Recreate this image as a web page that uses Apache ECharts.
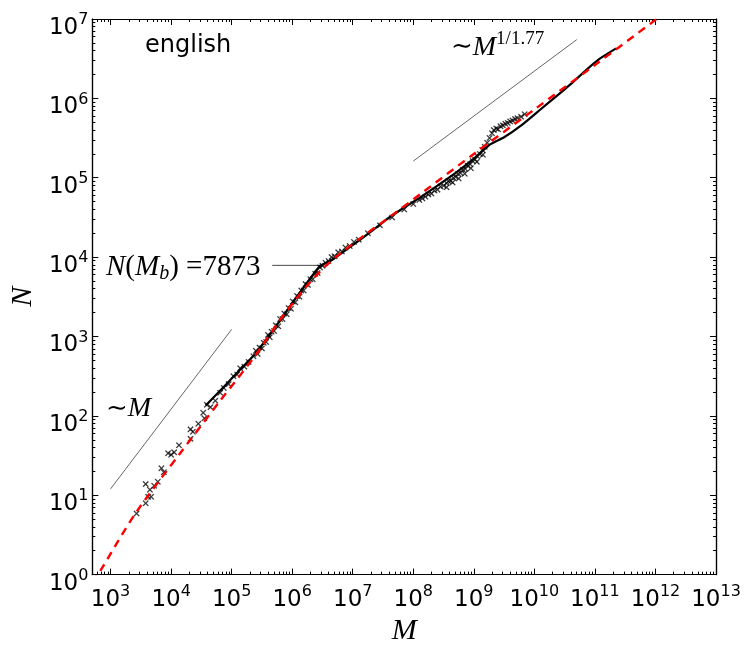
<!DOCTYPE html>
<html>
<head>
<meta charset="utf-8">
<script src="https://cdn.jsdelivr.net/npm/echarts@6/dist/echarts.min.js"></script>
<style>
  html, body { margin: 0; padding: 0; background: #fff; }
  #chart { width: 744px; height: 651px; }
</style>
</head>
<body>
<div id="chart"></div>
<script>
// All values are stored as base-10 exponents (log10 M, log10 N).

// Two-regime fit (red dashed)
const fitLogM = [2.70, 2.84, 3.41, 4.15, 4.81, 5.36, 5.80, 6.02, 6.20, 6.45, 6.60, 6.80, 7.20, 7.60, 8.11, 9.00, 10.00, 11.00, 12.02, 12.50];
const fitLogN = [-0.10, 0.06, 0.77, 1.53, 2.19, 2.73, 3.21, 3.43, 3.60, 3.81, 3.92, 4.05, 4.28, 4.50, 4.79, 5.30, 5.86, 6.42, 7.00, 7.28];

// Average vocabulary curve (black solid)
const curveLogM = [4.57, 4.80, 5.00, 5.20, 5.40, 5.60, 5.80, 6.00, 6.20, 6.46, 6.65, 6.85, 7.05, 7.30, 7.55, 7.80, 8.11, 8.40, 8.70, 9.00, 9.27, 9.50, 9.80, 10.10, 10.40, 10.60, 10.86, 11.08, 11.35];
const curveLogN = [2.13, 2.31, 2.47, 2.63, 2.79, 2.99, 3.20, 3.42, 3.63, 3.89, 3.96, 4.07, 4.18, 4.32, 4.47, 4.60, 4.75, 4.90, 5.06, 5.24, 5.42, 5.51, 5.67, 5.86, 6.05, 6.18, 6.36, 6.50, 6.63];

// Individual years (x markers)
const yearLogM = [
  3.43, 3.58, 3.58, 3.62, 3.65, 3.67, 3.72, 3.78, 3.84, 3.88, 3.95, 4.00, 4.05, 4.13, 4.32, 4.36, 4.32, 4.45, 4.53, 4.55,
  4.59, 4.65, 4.73, 4.81, 4.87, 4.95, 5.03, 5.09, 5.14, 5.21, 5.28, 5.36,
  5.40, 5.43, 5.46, 5.50, 5.53, 5.57, 5.60, 5.63, 5.66, 5.70, 5.73, 5.77, 5.80, 5.84, 5.87, 5.91, 5.94, 5.98, 6.01, 6.05,
  6.08, 6.12, 6.15, 6.19, 6.22, 6.26, 6.30, 6.34, 6.38, 6.42, 6.46, 6.50, 6.55, 6.60, 6.65, 6.70, 6.76, 6.82, 6.88, 6.95, 7.02, 7.10,
  7.25, 7.45, 7.65, 7.85, 8.00,
  8.10, 8.15, 8.20, 8.25, 8.30, 8.35, 8.40, 8.45, 8.50, 8.55, 8.58, 8.62, 8.66, 8.70, 8.74, 8.78, 8.82, 8.86, 8.90, 8.94,
  8.98, 9.02, 9.06, 9.10, 9.14, 9.18, 9.22, 9.26, 9.30,
  8.55, 8.65, 8.75, 8.85, 8.95, 9.05, 9.15,
  9.33, 9.37, 9.40, 9.44, 9.48, 9.52, 9.56, 9.60, 9.64, 9.68, 9.72, 9.78, 9.84];
const yearLogN = [
  0.77, 0.90, 1.14, 0.98, 1.07, 0.98, 1.12, 1.17, 1.34, 1.29, 1.53, 1.51, 1.54, 1.63, 1.83, 1.80, 1.71, 1.90, 2.04, 1.97,
  2.14, 2.11, 2.19, 2.29, 2.35, 2.40, 2.50, 2.52, 2.60, 2.62, 2.68, 2.75,
  2.82, 2.78, 2.86, 2.85, 2.92, 2.93, 3.02, 2.99, 3.06, 3.07, 3.14, 3.13, 3.22, 3.22, 3.29, 3.28, 3.36, 3.35, 3.44, 3.43,
  3.51, 3.50, 3.58, 3.58, 3.66, 3.65, 3.72, 3.72, 3.79, 3.80, 3.87, 3.89, 3.93, 3.95, 4.00, 4.01, 4.06, 4.07, 4.12, 4.14, 4.19, 4.22,
  4.30, 4.40, 4.50, 4.60, 4.67,
  4.72, 4.74, 4.76, 4.79, 4.80, 4.84, 4.85, 4.89, 4.90, 4.93, 4.96, 4.96, 5.00, 5.01, 5.05, 5.06, 5.10, 5.11, 5.15, 5.17,
  5.21, 5.23, 5.27, 5.30, 5.35, 5.39, 5.44, 5.50, 5.56,
  4.88, 4.94, 4.99, 5.05, 5.12, 5.20, 5.29,
  5.60, 5.62, 5.61, 5.65, 5.66, 5.68, 5.69, 5.71, 5.72, 5.74, 5.75, 5.77, 5.80];

// Guide slopes
const guideLowLogM = [3.00, 5.00];
const guideLowLogN = [1.08, 3.09];
const guideHighLogM = [8.00, 10.70];
const guideHighLogN = [5.21, 6.74];

// Break point marker
const breakN = 7873;
const breakLineLogM = [5.67, 6.47];

// Axis ranges and tick exponents
const xMin = 500, xMax = 1e13;
const yMin = 1, yMax = 1e7;
const xTickExp = [3, 4, 5, 6, 7, 8, 9, 10, 11, 12, 13];
const yTickExp = [0, 1, 2, 3, 4, 5, 6, 7];

const pw = e => Math.pow(10, e);
const pairs = (a, b) => a.map((v, i) => [pw(v), pw(b[i])]);

const majorX = xTickExp.map(pw);
const majorY = yTickExp.map(pw);
const minorX = [], minorY = [];
for (let e = 2; e <= 12; e++) for (let k = 2; k <= 9; k++) { const v = k * pw(e); if (v > xMin && v < xMax) minorX.push(v); }
for (let e = 0; e <= 6; e++) for (let k = 2; k <= 9; k++) minorY.push(k * pw(e));

const labelRich = {
  b: { fontSize: 23, fontFamily: 'DejaVu Sans', color: '#000' },
  s: { fontSize: 16, fontFamily: 'DejaVu Sans', color: '#000', padding: [0, 0, 16, 0] }
};
const powFmt = v => '{b|10}{s|' + Math.round(Math.log10(v)) + '}';

function makeAxis(kind, pos, ticks, len, withLabels) {
  const isX = kind === 'x';
  return {
    type: 'log', logBase: 10,
    min: isX ? xMin : yMin, max: isX ? xMax : yMax,
    position: pos,
    axisLine: { show: true, onZero: false, lineStyle: { color: '#000', width: 1.2 } },
    axisTick: { show: true, inside: true, length: len, customValues: ticks, lineStyle: { color: '#000', width: 1 } },
    axisLabel: withLabels ? {
      show: true, customValues: ticks, margin: isX ? 9 : 4,
      padding: isX ? 0 : [18, 0, 0, 0],
      formatter: powFmt, rich: labelRich
    } : { show: false },
    splitLine: { show: false },
    minorTick: { show: false },
    name: withLabels ? (isX ? 'M' : 'N') : '',
    nameLocation: 'middle',
    nameGap: isX ? 38 : 50,
    nameTextStyle: { fontFamily: 'Liberation Serif', fontStyle: 'italic', fontSize: 30, color: '#000' },
    silent: true
  };
}

const chart = echarts.init(document.getElementById('chart'), null, { renderer: 'canvas' });

const mathFont = 'Liberation Serif';
const crossPath = 'path://M0,1.3L1.3,0L5,3.7L8.7,0L10,1.3L6.3,5L10,8.7L8.7,10L5,6.3L1.3,10L0,8.7L3.7,5Z';

chart.setOption({
  animation: false,
  backgroundColor: '#fff',
  grid: { left: 92, right: 28, top: 19, bottom: 68, containLabel: false },
  xAxis: [
    makeAxis('x', 'bottom', majorX, 6, true),
    makeAxis('x', 'bottom', minorX, 3, false),
    makeAxis('x', 'top', majorX, 6, false),
    makeAxis('x', 'top', minorX, 3, false)
  ],
  yAxis: [
    makeAxis('y', 'left', majorY, 6, true),
    makeAxis('y', 'left', minorY, 3, false),
    makeAxis('y', 'right', majorY, 6, false),
    makeAxis('y', 'right', minorY, 3, false)
  ],
  series: [
    {
      name: 'guide-low', type: 'line', data: pairs(guideLowLogM, guideLowLogN),
      symbol: 'none', lineStyle: { color: '#555', width: 0.9 }, z: 2
    },
    {
      name: 'guide-high', type: 'line', data: pairs(guideHighLogM, guideHighLogN),
      symbol: 'none', lineStyle: { color: '#555', width: 0.9 }, z: 2
    },
    {
      name: 'break', type: 'line', data: breakLineLogM.map(m => [pw(m), breakN]),
      symbol: 'none', lineStyle: { color: '#333', width: 0.9 }, z: 2
    },
    {
      name: 'years', type: 'scatter', data: pairs(yearLogM, yearLogN),
      symbol: crossPath, symbolSize: 6,
      itemStyle: { color: '#000', borderColor: 'rgba(0,0,0,0.2)', borderWidth: 0.8 }, z: 3
    },
    {
      name: 'average', type: 'line', data: pairs(curveLogM, curveLogN),
      symbol: 'none', smooth: 0.15, lineStyle: { color: '#000', width: 2.2 }, z: 4
    },
    {
      name: 'fit', type: 'line', data: pairs(fitLogM, fitLogN),
      symbol: 'none', smooth: 0.3, clip: true,
      lineStyle: { color: '#ff0000', width: 2.4, type: [8, 6] }, z: 5
    }
  ],
  graphic: [
    {
      type: 'text', left: 145, top: 34, silent: true,
      style: { text: 'english', fontFamily: 'DejaVu Sans', fontSize: 24, fill: '#000' }
    },
    {
      type: 'text', left: 451, top: 30, silent: true,
      style: {
        text: '{t|∼}{m|M}{s|1/1.77}',
        rich: {
          t: { fontFamily: 'DejaVu Serif', fontSize: 26, fill: '#000' },
          m: { fontFamily: mathFont, fontStyle: 'italic', fontSize: 28, fill: '#000' },
          s: { fontFamily: mathFont, fontSize: 19, fill: '#000', padding: [0, 0, 16, 0] }
        }
      }
    },
    {
      type: 'text', left: 106, top: 253, silent: true,
      style: {
        text: '{i|N}{r|(}{i|M}{sub|b}{r|)}{r| =7873}',
        rich: {
          i: { fontFamily: mathFont, fontStyle: 'italic', fontSize: 29, fill: '#000' },
          r: { fontFamily: mathFont, fontSize: 29, fill: '#000' },
          sub: { fontFamily: mathFont, fontStyle: 'italic', fontSize: 20, fill: '#000', padding: [12, 0, 0, 0] }
        }
      }
    },
    {
      type: 'text', left: 106, top: 395, silent: true,
      style: {
        text: '{t|∼}{m|M}',
        rich: {
          t: { fontFamily: 'DejaVu Serif', fontSize: 26, fill: '#000' },
          m: { fontFamily: mathFont, fontStyle: 'italic', fontSize: 28, fill: '#000' }
        }
      }
    }
  ]
});
</script>
</body>
</html>
